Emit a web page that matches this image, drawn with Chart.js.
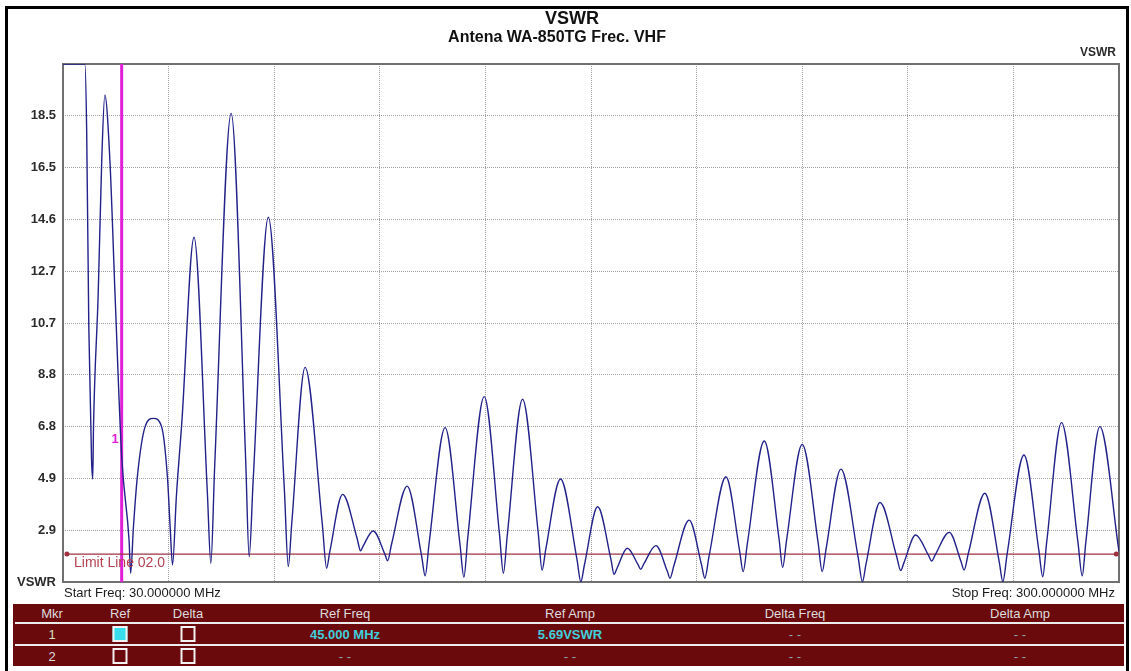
<!DOCTYPE html>
<html>
<head>
<meta charset="utf-8">
<title>VSWR</title>
<script src="https://cdn.jsdelivr.net/npm/chart.js@4.4.1/dist/chart.umd.min.js"></script>
<style>
  body { margin: 0; background: #fff; font-family: "Liberation Sans", Arial, sans-serif; }
  #page { position: relative; width: 1131px; height: 671px; overflow: hidden; background: #fff; }
  #frame { position: absolute; left: 5px; top: 6px; width: 1124px; height: 700px; border: 3px solid #000; box-sizing: border-box; }
  #vswr-chart { position: absolute; left: 0; top: 0; }
  #markers { position: absolute; left: 13px; top: 604px; width: 1111px; height: 62px; background: #6b0a0c; }
  #markers .cell { position: absolute; transform: translate(-50%, -50%); white-space: nowrap; font-size: 13px; color: #dcdcdc; }
  #markers .rule { position: absolute; left: 2px; right: 0; height: 2px; background: #ececec; }
  #markers .box { position: absolute; width: 11px; height: 12px; border: 2px solid #f2f2f2; transform: translate(-50%, -50%); }
  #markers .box.on { background: #38dcea; }
  #markers .val { color: #3fcfdc; font-weight: bold; }
  #markers .none { color: #8fa4b4; }
  #markers .mkr1 { color: #cfe3c4; }
</style>
</head>
<body>
<div id="page">
  <div id="frame"></div>
  <canvas id="vswr-chart" width="1131" height="600"></canvas>
  <div id="markers"></div>
</div>
<script>
// barrido 30 - 300 MHz: picos, valles y algunos puntos en los flancos
const freqMHz = [
  30.0, 35.6, 36.05, 36.6, 37.3, 37.6, 37.8, 39.0, 39.9, 40.7, 42.0, 43.3, 45.0, 46.9, 47.3,
  48.0, 49.0, 51.0, 53.1, 55.2, 56.7, 57.4, 58.0, 59.0, 60.4,
  63.5, 66.9, 67.8, 68.8,
  73.0, 76.7, 77.6, 78.6,
  82.5, 86.6, 87.6, 88.5,
  91.9, 96.3, 97.4, 98.2,
  101.5, 105.2, 106.1, 106.7,
  109.3, 112.3, 113.0, 114.0,
  118.0, 121.7, 122.6, 123.6,
  127.7, 131.5, 132.5, 133.5,
  137.7, 141.6, 142.6, 143.6,
  147.5, 151.5, 152.5, 153.4,
  157.2, 161.4, 162.4, 163.3,
  166.7, 170.1, 170.9, 171.6,
  174.3, 177.0, 177.7, 178.5,
  181.6, 184.5, 185.2, 186.2,
  190.1, 193.3, 194.1, 195.2,
  199.5, 203.0, 203.9, 205.0,
  209.3, 213.1, 214.0, 215.0,
  219.0, 223.1, 224.1, 225.1,
  228.9, 233.3, 234.4, 235.3,
  238.9, 243.1, 244.2, 245.0,
  248.0, 251.3, 252.1, 253.0,
  256.6, 259.6, 260.4, 261.5,
  265.7, 269.4, 270.3, 271.4,
  275.7, 279.5, 280.5, 281.5,
  285.3, 289.5, 290.6, 291.5,
  295.1, 300.0
];
const vswr = [
  20.45, 20.45, 17.97, 10.55, 5.54, 4.83, 6.8, 11.8, 16.8, 19.28, 16.8, 11.8, 5.69, 2.5, 1.28,
  3.0, 4.9, 6.8, 7.11, 6.8, 4.9, 3.0, 1.59, 4.2, 7.0,
  13.93, 4.35, 1.65, 5.37,
  18.59, 5.57, 1.90, 4.71,
  14.68, 4.43, 1.53, 3.18,
  9.03, 3.13, 1.47, 2.08,
  4.25, 2.59, 2.12, 2.29,
  2.87, 2.00, 1.75, 2.37,
  4.56, 1.92, 1.18, 2.40,
  6.76, 2.37, 1.13, 2.63,
  7.93, 2.75, 1.28, 2.72,
  7.83, 2.81, 1.40, 2.15,
  4.83, 1.81, 0.96, 1.58,
  3.78, 1.80, 1.24, 1.45,
  2.22, 1.61, 1.43, 1.63,
  2.32, 1.36, 1.09, 1.57,
  3.28, 1.57, 1.09, 1.93,
  4.91, 2.12, 1.34, 2.42,
  6.26, 2.55, 1.50, 2.52,
  6.13, 2.40, 1.34, 2.19,
  5.20, 1.89, 0.96, 1.61,
  3.94, 1.94, 1.38, 1.67,
  2.72, 1.95, 1.74, 1.97,
  2.82, 1.72, 1.40, 2.04,
  4.29, 1.69, 0.96, 2.01,
  5.73, 2.15, 1.15, 2.43,
  6.95, 2.45, 1.18, 2.42,
  6.80, 2.10
];

const startFreq = 30;
const stopFreq = 300;
const xGridMHz = [30, 57, 84, 111, 138, 165, 192, 219, 246, 273, 300];

const yMin = 0.95;
const yMax = 20.45;
const yTickValues = [0.95, 2.9, 4.85, 6.8, 8.75, 10.7, 12.65, 14.6, 16.55, 18.5, 20.45];
const yTickLabels = ['VSWR', '2.9', '4.9', '6.8', '8.8', '10.7', '12.7', '14.6', '16.5', '18.5', ''];

const limitValue = 2.0;
const limitFreqs = [31.0, 299.3];

const markerFreq = 45.0;
const markerAmp = 5.69;

const tableHeaders = ['Mkr', 'Ref', 'Delta', 'Ref Freq', 'Ref Amp', 'Delta Freq', 'Delta Amp'];
const tableCols = [39, 107, 175, 332, 557, 782, 1007];

const trace = freqMHz.map((f, i) => ({ x: f, y: vswr[i] }));

// textos fijos del analizador
const analyzerText = {
  id: 'analyzerText',
  beforeDatasetsDraw(chart) {
    const { ctx, chartArea: a } = chart;
    ctx.save();
    ctx.strokeStyle = '#707070';
    ctx.lineWidth = 2;
    ctx.strokeRect(a.left, a.top, a.right - a.left, a.bottom - a.top);
    ctx.restore();
  },
  afterDraw(chart) {
    const { ctx, chartArea: a, scales } = chart;
    const x = scales.x, y = scales.y;
    ctx.save();
    ctx.textBaseline = 'middle';

    ctx.fillStyle = '#111';
    ctx.textAlign = 'center';
    ctx.font = 'bold 18px "Liberation Sans", Arial';
    ctx.fillText('VSWR', 572, 19);
    ctx.font = 'bold 16px "Liberation Sans", Arial';
    ctx.fillText('Antena WA-850TG Frec. VHF', 557, 38);

    ctx.textAlign = 'right';
    ctx.font = 'bold 12px "Liberation Sans", Arial';
    ctx.fillStyle = '#2b2b2b';
    ctx.fillText('VSWR', a.right - 3, 53);

    ctx.font = '13px "Liberation Sans", Arial';
    ctx.fillStyle = '#1a1a1a';
    ctx.textAlign = 'left';
    ctx.fillText('Start Freq: ' + startFreq.toFixed(6) + ' MHz', a.left + 1, 593);
    ctx.textAlign = 'right';
    ctx.fillText('Stop Freq: ' + stopFreq.toFixed(6) + ' MHz', a.right - 4, 593);

    // etiqueta de la linea limite
    ctx.textAlign = 'left';
    ctx.font = '14px "Liberation Sans", Arial';
    ctx.fillStyle = '#b3404e';
    ctx.fillText('Limit Line 0' + limitValue.toFixed(1), a.left + 11, y.getPixelForValue(limitValue) + 9);

    // numero del marcador
    ctx.textAlign = 'right';
    ctx.font = 'bold 13px "Liberation Sans", Arial';
    ctx.fillStyle = '#e020d8';
    ctx.fillText('1', x.getPixelForValue(markerFreq) - 3, y.getPixelForValue(markerAmp) - 17);
    ctx.restore();
  }
};

const gridOpts = { color: '#a0a0a0', lineWidth: 1, drawTicks: false };

new Chart(document.getElementById('vswr-chart'), {
  type: 'line',
  data: {
    datasets: [
      {
        data: trace,
        borderColor: '#22228a',
        borderWidth: 1.4,
        pointRadius: 0,
        cubicInterpolationMode: 'monotone'
      },
      {
        data: limitFreqs.map(f => ({ x: f, y: limitValue })),
        borderColor: '#a03040',
        borderWidth: 1.2,
        pointRadius: 2.5,
        pointBorderWidth: 0,
        pointBackgroundColor: '#a03040'
      },
      {
        data: [{ x: markerFreq, y: yMin }, { x: markerFreq, y: yMax }],
        borderColor: '#e020d8',
        borderWidth: 3,
        pointRadius: 0
      }
    ]
  },
  options: {
    responsive: false,
    animation: false,
    events: [],
    layout: { padding: { top: 64, right: 12, bottom: 0, left: 0 } },
    plugins: { legend: { display: false }, tooltip: { enabled: false } },
    scales: {
      x: {
        type: 'linear',
        min: startFreq,
        max: stopFreq,
        afterBuildTicks: s => { s.ticks = xGridMHz.map(v => ({ value: v })); },
        afterFit: s => { s.height = 18; },
        ticks: { display: false },
        grid: gridOpts,
        border: { display: false, dash: [1, 1] }
      },
      y: {
        min: yMin,
        max: yMax,
        afterBuildTicks: s => { s.ticks = yTickValues.map(v => ({ value: v })); },
        afterFit: s => { s.width = 63; },
        ticks: {
          autoSkip: false,
          padding: 7,
          color: '#2b2b2b',
          font: { family: '"Liberation Sans", Arial', size: 13, weight: 'bold' },
          callback: (v, i) => yTickLabels[i]
        },
        grid: gridOpts,
        border: { display: false, dash: [1, 1] }
      }
    }
  },
  plugins: [analyzerText]
});

// tabla de marcadores
const markerRows = [
  { mkr: '1', ref: true, delta: false, refFreq: markerFreq.toFixed(3) + ' MHz', refAmp: markerAmp.toFixed(2) + 'VSWR', deltaFreq: '- -', deltaAmp: '- -' },
  { mkr: '2', ref: false, delta: false, refFreq: '- -', refAmp: '- -', deltaFreq: '- -', deltaAmp: '- -' }
];

const table = document.getElementById('markers');
function addCell(text, col, top, cls) {
  const d = document.createElement('div');
  d.className = 'cell' + (cls ? ' ' + cls : '');
  d.style.left = tableCols[col] + 'px';
  d.style.top = top + 'px';
  d.textContent = text;
  table.appendChild(d);
}
function addBox(col, top, on) {
  const d = document.createElement('div');
  d.className = 'box' + (on ? ' on' : '');
  d.style.left = tableCols[col] + 'px';
  d.style.top = top + 'px';
  table.appendChild(d);
}
function addRule(top) {
  const d = document.createElement('div');
  d.className = 'rule';
  d.style.top = top + 'px';
  table.appendChild(d);
}

tableHeaders.forEach((h, i) => addCell(h, i, 9));
addRule(18);
addRule(40);
markerRows.forEach((r, k) => {
  const top = k === 0 ? 30 : 52;
  const isVal = s => s !== '- -';
  addCell(r.mkr, 0, top, k === 0 ? 'mkr1' : '');
  addBox(1, top, r.ref);
  addBox(2, top, r.delta);
  addCell(r.refFreq, 3, top, isVal(r.refFreq) ? 'val' : 'none');
  addCell(r.refAmp, 4, top, isVal(r.refAmp) ? 'val' : 'none');
  addCell(r.deltaFreq, 5, top, 'none');
  addCell(r.deltaAmp, 6, top, 'none');
});
</script>
</body>
</html>
